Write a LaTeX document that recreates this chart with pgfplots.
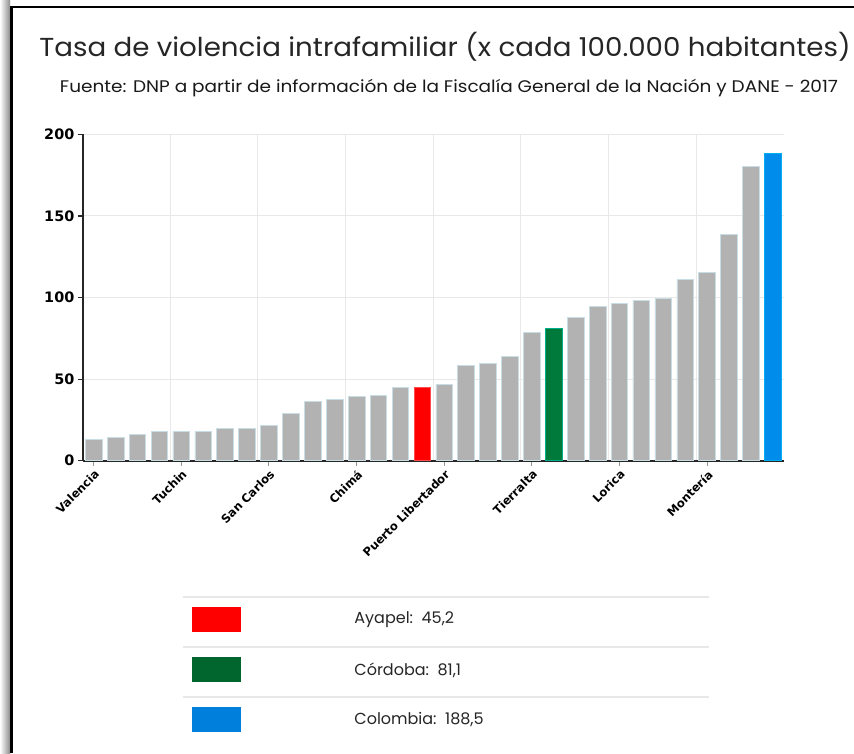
\documentclass[border=0pt]{standalone}
\usepackage{pgfplots}
\pgfplotsset{compat=1.18}
\usepackage{fontspec}
\setmainfont{Poppins}
\newfontfamily\tickfont{DejaVu Sans}[BoldFont=DejaVu Sans Bold]
\definecolor{barg}{HTML}{B2B2B2}
\definecolor{baredge}{HTML}{C9DDE4}
\definecolor{bred}{HTML}{FF0000}
\definecolor{bgreen}{HTML}{007A3A}
\definecolor{bblue}{HTML}{008CEB}
\definecolor{lgreen}{HTML}{00662E}
\definecolor{lblue}{HTML}{0080DC}
\definecolor{gridc}{HTML}{E8E8E8}
\def\u{0.5pt}

\begin{document}
\begin{tikzpicture}
% page = 854 x 753 px, 1 px = 0.5pt, y grows downwards as negative
\path[use as bounding box, fill=white] (0,0) rectangle (854*\u,-753*\u);
\shade[left color=white, right color=black!45] (0,0) rectangle (10*\u,-753*\u);
\draw[line width=1.3pt, black] (11.5*\u,-753*\u) -- (11.5*\u,-7*\u) -- (854*\u,-7*\u);

\node[anchor=base, font=\fontsize{13}{15}\selectfont, text=black!85] at (445*\u,-57*\u)
  {\scalebox{1.065}[1]{Tasa de violencia intrafamiliar (x cada 100.000 habitantes)}};
\node[anchor=base, font=\fontsize{8.4}{10}\selectfont, text=black!90] at (449*\u,-93*\u)
  {\scalebox{1.1}[1]{Fuente: DNP a partir de información de la Fiscalía General de la Nación y DANE - 2017}};

\begin{axis}[
  at={(41.35pt,-230.35pt)}, anchor=south west,
  scale only axis, width=350.5pt, height=163.2pt,
  xmin=-0.5, xmax=31.5, ymin=0, ymax=200,
  axis x line*=bottom, axis y line*=left,
  axis line style={line width=1pt, black!85},
  ytick={0,50,100,150,200},
  /pgf/number format/assume math mode=true,
  xtick={0,4,...,28},
  xticklabels={Valencia,Tuchin,San Carlos,Chimá,Puerto Libertador,Tierralta,Lorica,Montería},
  minor xtick={3.5,7.5,...,27.5},
  ymajorgrids, xminorgrids,
  major grid style={gridc, line width=0.5pt},
  minor grid style={gridc, line width=0.5pt},
  tick align=outside, major tick length=2.5pt, minor tick length=0pt,
  x tick style={black!40, line width=0.5pt},
  y tick style={black!85, line width=0.6pt},
  yticklabel style={font=\tickfont\bfseries\fontsize{7.2}{8}\selectfont, inner sep=1.5pt},
  xticklabel style={font=\tickfont\bfseries\fontsize{5.8}{6}\selectfont, rotate=45, anchor=north east, inner sep=1pt},
  clip=false,
]
\addplot[ybar, bar shift=0pt, bar width=0.76, fill=barg, draw=baredge, line width=0.3pt] coordinates {
  (0,13.3) (1,14.3) (2,16.3) (3,17.8) (4,17.8) (5,17.8) (6,20.0) (7,20.0)
  (8,21.5) (9,29.0) (10,36.4) (11,37.4) (12,39.2) (13,40.0) (14,44.7)
  (16,46.8) (17,58.2) (18,59.4) (19,64.1) (20,78.4)
  (22,87.6) (23,94.6) (24,96.2) (25,98.3) (26,99.5) (27,110.9) (28,115.6)
  (29,138.7) (30,180.4)
};
\addplot[ybar, bar shift=0pt, bar width=0.76, fill=bred, draw=bred!70, line width=0.3pt] coordinates {(15,45.2)};
\addplot[ybar, bar shift=0pt, bar width=0.76, fill=bgreen, draw=bgreen!60!cyan, line width=0.3pt] coordinates {(21,81.1)};
\addplot[ybar, bar shift=0pt, bar width=0.76, fill=bblue, draw=bblue!70!cyan, line width=0.3pt] coordinates {(31,188.5)};
\end{axis}

% legend table
\foreach \yl in {597,647,697}
  \draw[gridc, line width=0.8pt] (183*\u,-\yl*\u) -- (709*\u,-\yl*\u);
\fill[bred] (192*\u,-607*\u) rectangle (241*\u,-632*\u);
\fill[lgreen] (192*\u,-657*\u) rectangle (241*\u,-682*\u);
\fill[lblue] (192*\u,-707*\u) rectangle (241*\u,-732*\u);
\node[anchor=west, inner sep=0pt, font=\fontsize{8}{9}\selectfont, text=black!85] at (354*\u,-620*\u) {Ayapel:\ \ 45,2};
\node[anchor=west, inner sep=0pt, font=\fontsize{8}{9}\selectfont, text=black!85] at (354*\u,-670*\u) {Córdoba:\ \ 81,1};
\node[anchor=west, inner sep=0pt, font=\fontsize{8}{9}\selectfont, text=black!85] at (354*\u,-720*\u) {Colombia:\ \ 188,5};
\end{tikzpicture}
\end{document}
